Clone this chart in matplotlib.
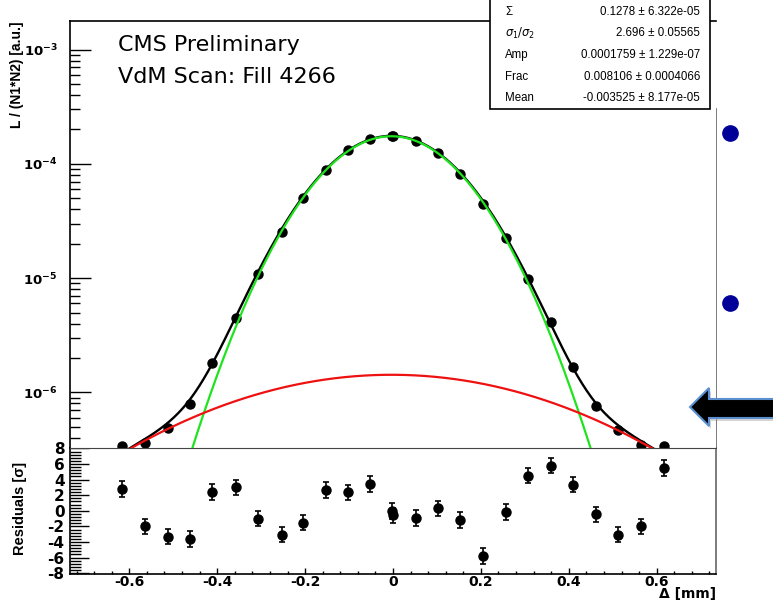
import numpy as np
import matplotlib
matplotlib.use('Agg')
import matplotlib.pyplot as plt
from matplotlib.ticker import MultipleLocator, LogLocator, FuncFormatter, NullFormatter
from matplotlib.patches import Rectangle, Polygon
from matplotlib.lines import Line2D

# scan points: separation [mm], normalised luminosity, fit residuals [sigma]
sep = [-0.616, -0.564, -0.511, -0.461, -0.411, -0.358, -0.308, -0.253, -0.205,
       -0.153, -0.103, -0.053, -0.002, 0.001, 0.053, 0.103, 0.153, 0.205, 0.256,
       0.308, 0.360, 0.409, 0.461, 0.511, 0.564, 0.616]
lumi = [3.37e-7, 3.60e-7, 4.87e-7, 7.94e-7, 1.80e-6, 4.47e-6, 1.09e-5, 2.51e-5,
        5.07e-5, 8.87e-5, 1.33e-4, 1.66e-4, 1.77e-4, 1.76e-4, 1.60e-4, 1.24e-4,
        8.18e-5, 4.47e-5, 2.26e-5, 9.86e-6, 4.09e-6, 1.66e-6, 7.67e-7, 4.65e-7,
        3.48e-7, 3.37e-7]
resid = [2.8, -2.0, -3.3, -3.6, 2.4, 3.0, -1.0, -3.05, -1.5, 2.65, 2.35, 3.4,
         -0.05, -0.6, -0.9, 0.3, -1.2, -5.8, -0.15, 4.5, 5.8, 3.35, -0.45, -3.05,
         -2.0, 5.5]
resid_err = [1.0] * len(resid)

# double gaussian fit parameters
SIGMA = 0.1278
RATIO = 2.696
AMP = 0.0001759
FRAC = 0.008106
MEAN = -0.003525

stat_names = ['\u03a3', r'$\sigma_{1}/\sigma_{2}$', 'Amp', 'Frac', 'Mean']
stat_values = ['0.1278 \u00b1 6.322e-05', '2.696 \u00b1 0.05565',
               '0.0001759 \u00b1 1.229e-07', '0.008106 \u00b1 0.0004066',
               '-0.003525 \u00b1 8.177e-05']

W, H = 773, 601
fig = plt.figure(figsize=(W / 100, H / 100), dpi=100)


def fx(x):
    return x / W


def fy(y):
    return 1 - y / H


ax = fig.add_axes([fx(70), fy(448), fx(716) - fx(70), fy(21) - fy(448)])
rax = fig.add_axes([fx(70), fy(574), fx(716) - fx(70), fy(448) - fy(574)])
ax.set_zorder(2)

# fit components
xs = np.linspace(-0.63, 0.63, 500)
narrow = AMP * (1 - FRAC) * np.exp(-(xs - MEAN) ** 2 / (2 * SIGMA ** 2))
wide = AMP * FRAC * np.exp(-(xs - MEAN) ** 2 / (2 * (SIGMA * RATIO) ** 2))

ax.plot(sep, lumi, 'o', color='black', ms=6.5, zorder=2)
ax.plot(xs, narrow + wide, color='black', lw=1.7, zorder=3)
ax.plot(xs, narrow, color='#1ee41e', lw=1.6, zorder=4)
ax.plot(xs, wide, color='#ee1111', lw=1.6, zorder=4)

ax.set_yscale('log')
ax.set_xlim(-0.735, 0.735)
ax.set_ylim(3.26e-7, 1.78e-3)
ax.yaxis.set_major_locator(LogLocator(base=10))
ax.yaxis.set_minor_locator(LogLocator(base=10, subs=np.arange(2, 10)))
ax.yaxis.set_major_formatter(FuncFormatter(
    lambda v, p: r'$\mathbf{10^{%d}}$' % round(np.log10(v))))
ax.yaxis.set_minor_formatter(NullFormatter())
ax.tick_params(axis='y', which='major', direction='in', length=15, width=1,
               labelsize=9.5, pad=9)
ax.tick_params(axis='y', which='minor', direction='in', length=7, width=1)
ax.tick_params(axis='x', which='both', bottom=False, labelbottom=False)
ax.spines['right'].set_visible(False)
ax.spines['bottom'].set_color('#444444')
for s in ['left', 'top']:
    ax.spines[s].set_linewidth(1.2)

# residuals
rax.errorbar(sep, resid, yerr=resid_err, fmt='o', color='black', ms=6.5,
             capsize=2.5, elinewidth=1.2, capthick=1.2)
rax.set_xlim(-0.735, 0.735)
rax.set_ylim(-8.1, 8.05)
rax.xaxis.set_major_locator(MultipleLocator(0.2))
rax.xaxis.set_minor_locator(MultipleLocator(0.04))
rax.yaxis.set_major_locator(MultipleLocator(2))
rax.yaxis.set_minor_locator(MultipleLocator(0.4))
fmt = FuncFormatter(lambda v, p: '%g' % round(v, 2))
rax.xaxis.set_major_formatter(fmt)
rax.yaxis.set_major_formatter(fmt)
rax.tick_params(axis='x', which='major', direction='in', length=4.5, width=1,
                labelsize=10, pad=1)
rax.tick_params(axis='x', which='minor', direction='in', length=2.3, width=1)
rax.tick_params(axis='y', which='major', direction='in', length=14, width=1,
                labelsize=11, pad=4)
rax.tick_params(axis='y', which='minor', direction='in', length=8, width=1)
for lab in rax.get_xticklabels() + rax.get_yticklabels():
    lab.set_fontweight('bold')
rax.spines['right'].set_color('#666666')
for s in rax.spines.values():
    s.set_linewidth(1.2)

# right frame edge of the upper pad, below the stats box
fig.add_artist(Line2D([fx(716), fx(716)], [fy(448), fy(109)],
                      color='#666666', lw=1.2))

fig.text(fx(118), fy(45), 'CMS Preliminary', fontsize=16, va='center',
         family='DejaVu Sans')
fig.text(fx(118), fy(77), 'VdM Scan: Fill 4266', fontsize=16, va='center',
         family='DejaVu Sans')

fig.text(fx(17), fy(22), 'L / (N1*N2) [a.u.]', rotation=90, ha='center',
         va='top', fontsize=10, fontweight='bold', family='Liberation Sans')
fig.text(fx(20), fy(508), 'Residuals [\u03c3]', rotation=90, ha='center',
         va='center', fontsize=10.5, fontweight='bold', family='Liberation Sans')
fig.text(fx(716), fy(601), '\u0394 [mm]', ha='right', va='bottom',
         fontsize=10, fontweight='bold', family='DejaVu Sans')

# fit statistics box
fig.add_artist(Rectangle((fx(490), fy(109)), fx(710) - fx(490), fy(-5) - fy(109),
                         transform=fig.transFigure, facecolor='white',
                         edgecolor='black', lw=1.2, zorder=5))
for i, (name, val) in enumerate(zip(stat_names, stat_values)):
    yc = 12 + i * 21.5
    fig.text(fx(505), fy(yc), name, fontsize=8.3, va='center',
             family='Liberation Sans', zorder=6)
    fig.text(fx(700), fy(yc), val, fontsize=8.3, va='center', ha='right',
             family='Liberation Sans', zorder=6)

# slide bullets and arrow
for yb in [133, 303]:
    fig.add_artist(Line2D([fx(730)], [fy(yb)], marker='o', ms=11,
                          color='#000099', transform=fig.transFigure))

arrow_px = [(690, 407), (709, 388), (709, 399), (785, 399), (785, 418),
            (709, 418), (709, 426)]
shadow = Polygon([(fx(x + 2), fy(y + 3)) for x, y in arrow_px], closed=True,
                 transform=fig.transFigure, facecolor='#888888', alpha=0.35,
                 edgecolor='none', zorder=6)
arrow = Polygon([(fx(x), fy(y)) for x, y in arrow_px], closed=True,
                transform=fig.transFigure, facecolor='black',
                edgecolor='#5b8fd0', lw=1.5, zorder=7)
fig.add_artist(shadow)
fig.add_artist(arrow)

fig.savefig('out.png', dpi=100)
